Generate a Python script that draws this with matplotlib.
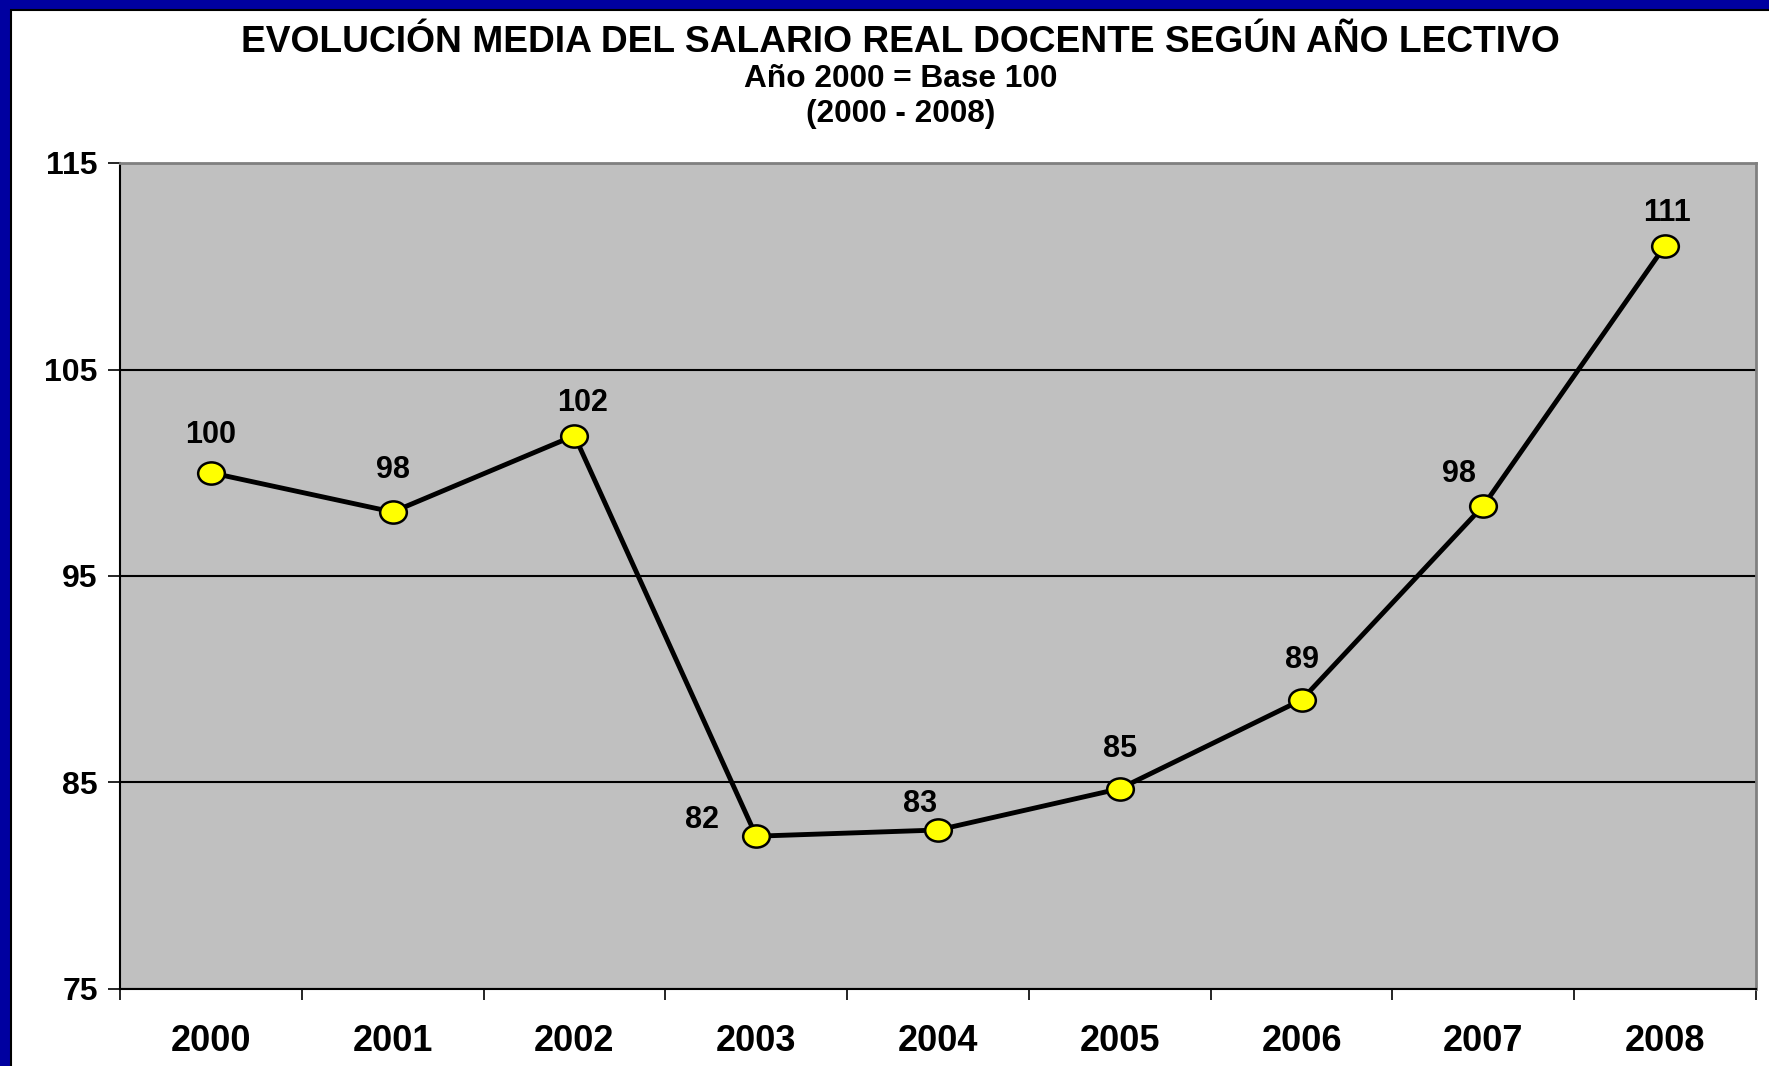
import matplotlib
matplotlib.use("Agg")
import matplotlib.pyplot as plt
from matplotlib.markers import MarkerStyle
from matplotlib.patches import Rectangle
from matplotlib.transforms import Affine2D

plt.rcParams['font.family'] = ['Liberation Sans', 'DejaVu Sans']
plt.rcParams['font.weight'] = 'bold'

years = ['2000', '2001', '2002', '2003', '2004', '2005', '2006', '2007', '2008']
salario = [100.0, 98.1, 101.8, 82.4, 82.7, 84.7, 89.0, 98.4, 111.0]
etiquetas = ['100', '98', '102', '82', '83', '85', '89', '98', '111']

# label offsets in pixels (dx, dy) relative to each point
offsets_px = [(0, 38), (0, 42), (8, 33), (-54, 16), (-18, 26), (0, 40), (0, 40), (-24, 32), (2, 33)]

fig = plt.figure(figsize=(17.69, 10.66), dpi=100)
fig.patch.set_facecolor('#0000a0')
fig.patches.append(Rectangle((11 / 1769, -0.01), 1, 1 - 10 / 1066 + 0.01,
                             transform=fig.transFigure, facecolor='white',
                             edgecolor='black', linewidth=1.5, zorder=-10))

ax = fig.add_axes([120 / 1769, 1 - 989 / 1066, (1756 - 120) / 1769, (989 - 163) / 1066])
ax.set_facecolor('#c0c0c0')

x = list(range(len(years)))
ellipse = MarkerStyle('o', transform=Affine2D().scale(1.2, 1.0))
ax.plot(x, salario, color='black', linewidth=3.5, marker=ellipse, markersize=16,
        markerfacecolor='#ffff00', markeredgecolor='black', markeredgewidth=1.8, zorder=3)

for xi, yi, lab, (dx, dy) in zip(x, salario, etiquetas, offsets_px):
    ax.annotate(lab, (xi, yi), xytext=(dx * 0.72, dy * 0.72), textcoords='offset points',
                ha='center', va='center', fontsize=22, fontweight='bold')

ax.set_xlim(-0.5, len(years) - 0.5)
ax.set_ylim(75, 115)
ax.set_yticks([75, 85, 95, 105, 115])
ax.yaxis.grid(True, color='black', linewidth=1.5)
ax.set_axisbelow(True)

ax.set_xticks(x)
ax.set_xticklabels(years)
ax.set_xticks([i - 0.5 for i in range(len(years) + 1)], minor=True)
ax.tick_params(axis='x', which='major', length=0, pad=25, labelsize=26)
ax.tick_params(axis='x', which='minor', length=8, width=1.2, direction='out')
ax.tick_params(axis='y', length=9, width=1.2, pad=7, labelsize=23)

for side in ['left', 'bottom']:
    ax.spines[side].set_color('black')
    ax.spines[side].set_linewidth(1.5)
for side in ['top', 'right']:
    ax.spines[side].set_color('#808080')
    ax.spines[side].set_linewidth(2)

fig.text(0.509, 1 - 43 / 1066, 'EVOLUCIÓN MEDIA DEL SALARIO REAL DOCENTE SEGÚN AÑO LECTIVO',
         ha='center', va='center', fontsize=26.7, fontweight='bold')
fig.text(0.509, 1 - 79 / 1066, 'Año 2000 = Base 100', ha='center', va='center',
         fontsize=22.8, fontweight='bold')
fig.text(0.509, 1 - 114 / 1066, '(2000 - 2008)', ha='center', va='center',
         fontsize=22.8, fontweight='bold')

fig.savefig('out.png', dpi=100, facecolor=fig.get_facecolor())
